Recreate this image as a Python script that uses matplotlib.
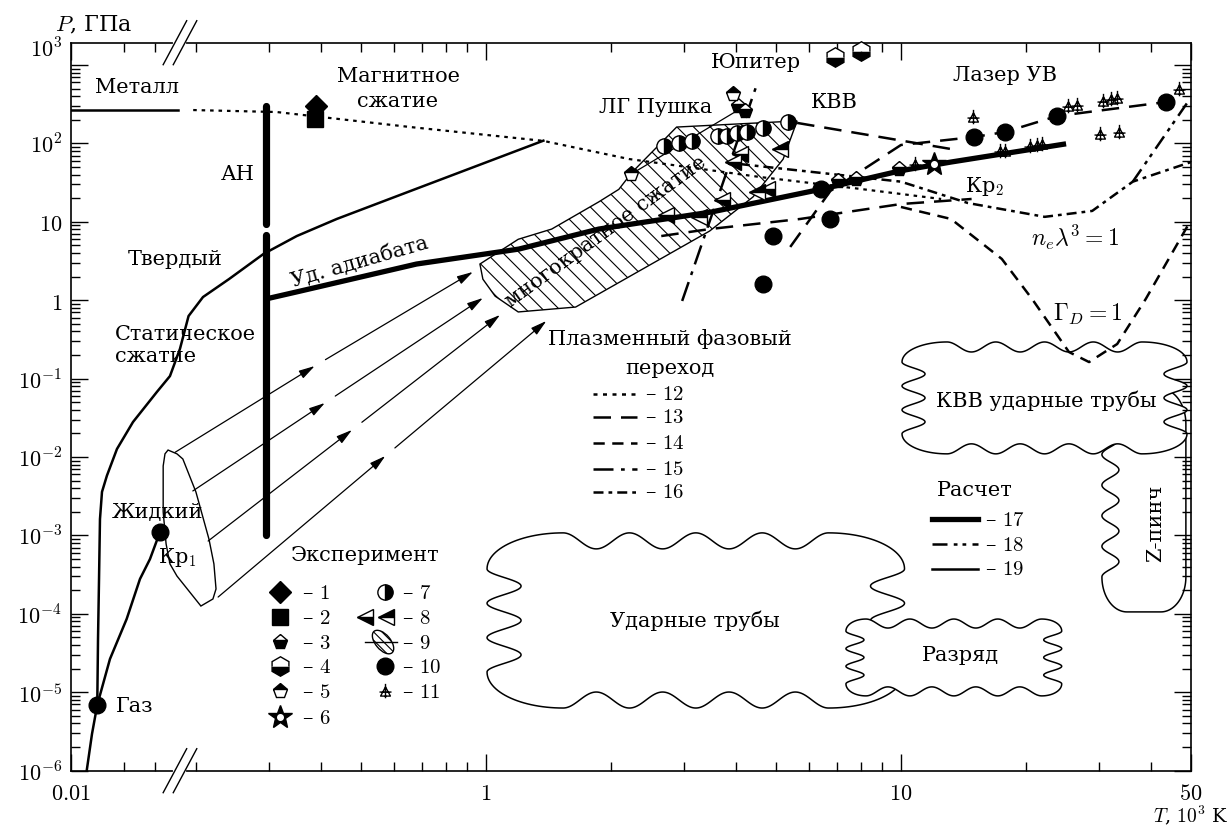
import numpy as np
import matplotlib
matplotlib.use("Agg")
import matplotlib.pyplot as plt
import matplotlib.ticker as mticker
from matplotlib.path import Path
from matplotlib.patches import Polygon, Ellipse
from matplotlib.transforms import IdentityTransform

plt.rcParams["font.family"] = ["DejaVu Serif"]
plt.rcParams["mathtext.fontset"] = "cm"
plt.rcParams["hatch.linewidth"] = 0.8

# ---------------- data: T in 10^3 K, P in GPa ----------------
# phase boundaries of molecular hydrogen (19)
sat_T = [0.01228, 0.01316, 0.0141, 0.01665, 0.02071, 0.02466, 0.0281, 0.032]
sat_P = [1e-6, 2.94e-6, 6.9e-6, 2.66e-5, 8.6e-5, 2.79e-4, 5.0e-4, 1.1e-3]
melt_T = [0.0141, 0.01424, 0.01443, 0.01461, 0.0150, 0.0160, 0.01825, 0.0225,
          0.0308, 0.0365, 0.0416, 0.192, 0.208, 0.2405, 0.291, 0.350, 0.437,
          0.658, 1.375]
melt_P = [6.9e-6, 4.8e-5, 2.8e-4, 1.62e-3, 3.6e-3, 5.8e-3, 0.0127, 0.028,
          0.068, 0.108, 0.24, 0.63, 1.10, 1.87, 3.9, 6.6, 10.9, 24.8, 108.6]
metal_T = [0.01, 0.0406]
metal_P = [267, 267]
triple_T, triple_P = 0.0141, 6.9e-6
crit1_T, crit1_P = 0.032, 1.1e-3

# diamond anvil range (AH)
anvil_T = 0.295
anvil_hi_P = [9.4, 300]
anvil_lo_P = [1e-3, 6.8]

# calculated principal Hugoniot (17)
hug_T = [0.295, 0.35, 0.68, 1.2, 1.87, 3.5, 6.4, 10, 13.2, 25]
hug_P = [1.04, 1.28, 2.9, 4.5, 8.1, 13.4, 26, 45, 58, 99]

# multiple shock compression domain
multi_T = [0.967, 0.983, 1.052, 1.196, 1.645, 3.46, 4.40, 5.20, 5.62, 2.88,
           2.25, 2.09, 1.87, 1.44, 1.196]
multi_P = [2.9, 1.86, 1.13, 0.71, 0.82, 7.65, 20.8, 63, 194, 162, 43, 26, 18,
           8.1, 6.0]

# liquid initial states
liq_T = [0.0356, 0.040, 0.186, 0.200, 0.215, 0.221, 0.2236, 0.2198, 0.2056,
         0.040, 0.0365, 0.0347, 0.0334, 0.0334, 0.0342]
liq_P = [0.0123, 0.011, 0.00946, 0.00359, 9.0e-4, 4.34e-4, 2.08e-4, 1.55e-4,
         1.26e-4, 3.04e-4, 4.34e-4, 7.8e-4, 2.0e-3, 7.7e-3, 0.011]

# compression paths
path_T0 = [0.039, 0.1966, 0.214, 0.2262]
path_P0 = [0.0115, 3.70e-3, 8.5e-4, 1.64e-4]
path_T1 = [0.3866, 0.409, 0.4755, 0.572]
path_P1 = [0.145, 0.049, 0.0222, 0.01033]
path_T2 = [0.930, 0.983, 1.081, 1.398]
path_P2 = [2.30, 1.07, 0.650, 0.545]

# plasma phase transition predictions (12-16) and criteria (18)
pt12_T = [0.197, 0.313, 0.658, 1.375, 2.21, 4.57, 8.0, 12.5]
pt12_P = [267, 252, 162, 108, 63.4, 37.4, 26.3, 19.6]
pt13a_T = [2.645, 3.46, 5.72, 10, 14.8]
pt13a_P = [6.6, 8.1, 10.9, 16.9, 19.6]
pt13b_T = [5.62, 13.2]
pt13b_P = [183, 85]
laser_T = [5.41, 6.76, 10, 15.0, 17.8, 23.8, 43.5]
laser_P = [4.79, 24.8, 95.7, 121, 140, 224, 338]
pt15_T = [2.97, 4.50]
pt15_P = [0.98, 574]
gam_T = [10, 13.2, 17.5, 20.7, 25.4, 28.4, 33.2, 38.9, 49.7]
gam_P = [15.5, 10.9, 3.37, 1.04, 0.219, 0.163, 0.277, 1.04, 10.0]
deg_T = [4.09, 10, 14.5, 22.2, 28.9, 36.2, 50]
deg_P = [54.7, 32.6, 17.4, 11.6, 13.8, 32.6, 58]
br18_T = [36.2, 49.7]
br18_P = [32.6, 370]

# experiments 1-11
e1_T, e1_P = [0.39], [300]
e2_T, e2_P = [0.387], [205]
e3_T = [4.04, 4.20, 7.07, 7.78, 9.89]
e3_P = [301, 259, 33.3, 35.3, 47.3]
e4_T, e4_P = [6.95, 8.0], [1268, 1513]
e5_T, e5_P = [3.93, 2.24], [428, 40.8]
e6_T, e6_P = [12.0], [54.7]
e7_T = [2.69, 2.92, 3.13, 3.62, 3.80, 4.02, 4.25, 4.65, 5.35]
e7_P = [93, 101, 108, 125, 125, 136, 140, 158, 188]
e8a_T = [2.72, 3.70, 4.75, 4.09, 3.93]
e8a_P = [12.2, 19.0, 26.3, 73.5, 58]
e8b_T = [3.27, 4.50, 5.11]
e8b_P = [11.5, 24.0, 85]
e10_T = [6.40, 6.76, 4.92, 4.65, 15.0, 17.8, 23.8, 43.5]
e10_P = [26.3, 10.9, 6.6, 1.61, 121, 140, 224, 338]
e11_T = [14.9, 17.3, 17.8, 20.5, 21.3, 21.9, 25.2, 26.6, 30.6, 32.0, 33.2,
         30.2, 33.6, 46.8, 10.8]
e11_P = [218, 80, 80, 93, 96, 98.6, 301, 310, 348, 370, 381, 132, 140, 495,
         54.7]
gun_T = [2.24, 4.02]
gun_P = [40.8, 260]

# experimental domains (T range, P range)
shock_tube = (1.006, 10.2, 6.3e-6, 1.08e-3)
discharge = (7.37, 24.4, 9.0e-6, 8.6e-5)
ew_tube = (10.06, 48.9, 0.011, 0.294)
zpinch = (30.5, 48.6, 1.06e-4, 0.074)

x_major = [0.01, 1, 10, 50]
x_major_lbl = [r"$0.01$", r"$1$", r"$10$", r"$50$"]
x_minor = [0.02, 0.03, 0.2, 0.3, 0.4, 0.5, 0.6, 0.7, 0.8, 0.9,
           2, 3, 4, 5, 6, 7, 8, 9, 20, 30, 40]

# ---------------- broken logarithmic temperature axis ----------------
LT_LO = -2 + 109 / 176
LT_HI = (181 - 486) / 415


def t_forward(t):
    lt = np.log10(np.clip(np.asarray(t, dtype=float), 1e-12, None))
    right = 486 + 415 * lt
    left = 71 + 176 * (lt + 2)
    gap = 180 + (lt - LT_LO) / (LT_HI - LT_LO)
    return np.where(lt >= LT_HI, right, np.where(lt <= LT_LO, left, gap))


def t_inverse(p):
    p = np.asarray(p, dtype=float)
    lt = np.where(p >= 181, (p - 486) / 415,
                  np.where(p <= 180, (p - 71) / 176 - 2,
                           LT_LO + (p - 180) * (LT_HI - LT_LO)))
    return 10 ** lt


fig = plt.figure(figsize=(12.3, 8.28), dpi=100)
ax = fig.add_axes([71 / 1230, (828 - 771.7) / 828, 1120 / 1230, 728 / 828])
ax.set_xscale("function", functions=(t_forward, t_inverse))
ax.set_yscale("log")
ax.set_xlim(0.01, 50)
ax.set_ylim(1e-6, 1.93e3)

ax.xaxis.set_major_locator(mticker.FixedLocator(x_major))
ax.xaxis.set_major_formatter(mticker.FixedFormatter(x_major_lbl))
ax.xaxis.set_minor_locator(mticker.FixedLocator(x_minor))
ax.xaxis.set_minor_formatter(mticker.NullFormatter())
ax.yaxis.set_major_locator(mticker.FixedLocator([10.0 ** k for k in range(-6, 4)]))
ax.yaxis.set_minor_locator(mticker.LogLocator(base=10, subs=np.arange(2, 10), numticks=20))
ax.yaxis.set_minor_formatter(mticker.NullFormatter())


def yfmt(v, pos):
    e = int(round(np.log10(v)))
    if e == 0:
        return r"$1$"
    if e == 1:
        return r"$10$"
    if e == 3:
        return ""
    return r"$10^{%d}$" % e


ax.yaxis.set_major_formatter(mticker.FuncFormatter(yfmt))
ax.tick_params(which="both", direction="in", top=True, right=True, width=1.0)
ax.tick_params(which="major", length=12.5, labelsize=16)
ax.tick_params(which="minor", length=6.3)
ax.tick_params(axis="x", pad=8)
ax.tick_params(axis="y", pad=6.5)
for s in ax.spines.values():
    s.set_linewidth(1.2)
ax.text(-0.008, 0.9913, r"$10^3$", transform=ax.transAxes, ha="right",
        va="center", fontsize=16)

# axis break marks
for yb in (0.0, 1.0):
    ax.add_line(plt.Line2D([0.0973 - 0.004, 0.0973 + 0.004], [yb, yb],
                           transform=ax.transAxes, color="white", lw=3,
                           clip_on=False, zorder=5))
    for dx in (-0.0045, 0.0045):
        ax.add_line(plt.Line2D([0.0973 + dx - 0.0105, 0.0973 + dx + 0.0105],
                               [yb - 0.0302, yb + 0.0302],
                               transform=ax.transAxes, color="k", lw=1.0,
                               clip_on=False, zorder=6))

# axis titles
ax.text(-0.0143, 1.0257, r"$P$, ГПа", transform=ax.transAxes, ha="left",
        va="center", fontsize=16)
ax.text(1.033, -0.0600, r"$T$, $10^3$ K", transform=ax.transAxes, ha="right",
        va="center", fontsize=14)


# ---------------- wavy experimental domains ----------------
def wavy_region(box, n_tb, n_lr, a_tb, a_l, a_r, rx, ry, z):
    t0, t1, p0, p1 = box
    (x0, y0), (x1, y1) = ax.transData.transform([(t0, p0), (t1, p1)])
    s = np.linspace(0, 1, 300)

    def arc(cx, cy, a0, a1):
        th = np.radians(np.linspace(a0, a1, 30))
        return np.column_stack([cx + rx * np.cos(th), cy + ry * np.sin(th)])

    def wave(n, a):
        return a * (1 - np.cos(2 * np.pi * n * s)) / 2

    w, h = x1 - x0 - 2 * rx, y1 - y0 - 2 * ry
    parts = [
        arc(x0 + rx, y1 - ry, 180, 90),
        np.column_stack([x0 + rx + w * s, y1 - wave(n_tb, a_tb)]),
        arc(x1 - rx, y1 - ry, 90, 0),
        np.column_stack([x1 - wave(n_lr, a_r), y1 - ry - h * s]),
        arc(x1 - rx, y0 + ry, 0, -90),
        np.column_stack([x1 - rx - w * s, y0 + wave(n_tb, a_tb)]),
        arc(x0 + rx, y0 + ry, -90, -180),
        np.column_stack([x0 + wave(n_lr, a_l), y0 + ry + h * s]),
    ]
    verts = ax.transAxes.inverted().transform(np.vstack(parts))
    ax.add_patch(Polygon(verts, closed=True, transform=ax.transAxes,
                         facecolor="white", edgecolor="k", lw=1.1, zorder=z))


wavy_region(shock_tube, 4, 3, 16, 34, 34, 76, 36, 1.0)
wavy_region(discharge, 4, 3, 9, 18, 18, 20, 12, 1.1)
wavy_region(zpinch, 0, 5, 0, 17, 0, 25, 35, 1.0)
wavy_region(ew_tube, 4, 3, 10, 23, 23, 45, 20, 1.1)

# ---------------- regions and curves ----------------
ax.add_patch(Polygon(np.column_stack([multi_T, multi_P]), closed=True,
                     facecolor="white", edgecolor="k", lw=1.0, hatch=r"\\",
                     zorder=2))
ax.add_patch(Polygon(np.column_stack([liq_T, liq_P]), closed=True,
                     facecolor="none", edgecolor="k", lw=1.0, zorder=2))

ls12 = (0, (1.6, 2.2))
ls13 = (0, (7, 4))
ls14 = (0, (4.5, 3))
ls15 = (0, (8, 3, 1.5, 3))
ls16 = (0, (4, 2, 1.5, 2))
ls18 = (0, (6, 2.5, 1.5, 2, 1.5, 2.5))

ax.plot(metal_T, metal_P, color="k", lw=1.8, zorder=3)
ax.plot(sat_T, sat_P, color="k", lw=1.8, zorder=3)
ax.plot(melt_T, melt_P, color="k", lw=1.8, zorder=3)
ax.plot(pt12_T, pt12_P, color="k", lw=1.6, ls=ls12, zorder=3)
ax.plot(pt13a_T, pt13a_P, color="k", lw=1.8, ls=ls13, zorder=3)
ax.plot(pt13b_T, pt13b_P, color="k", lw=1.8, ls=ls13, zorder=3)
ax.plot(laser_T, laser_P, color="k", lw=1.8, ls=ls13, zorder=3)
ax.plot(pt15_T, pt15_P, color="k", lw=1.8, ls=ls15, zorder=3)
ax.plot(gam_T, gam_P, color="k", lw=1.8, ls=ls14, zorder=3)
ax.plot(deg_T, deg_P, color="k", lw=1.8, ls=ls16, zorder=3)
ax.plot(br18_T, br18_P, color="k", lw=1.8, ls=ls18, zorder=3)
ax.plot(hug_T, hug_P, color="k", lw=3.8, solid_capstyle="butt", zorder=4)
ax.plot(gun_T, gun_P, color="k", lw=0.9, zorder=3)
ax.plot([anvil_T, anvil_T], anvil_hi_P, color="k", lw=5.2,
        solid_capstyle="round", zorder=4)
ax.plot([anvil_T, anvil_T], anvil_lo_P, color="k", lw=5.2,
        solid_capstyle="round", zorder=4)

arrow_kw = dict(arrowstyle="-|>,head_length=0.8,head_width=0.22",
                mutation_scale=12, color="k", lw=0.9, shrinkA=0, shrinkB=0)
for i in range(4):
    ax.annotate("", xy=(path_T1[i], path_P1[i]), xytext=(path_T0[i], path_P0[i]),
                arrowprops=arrow_kw, zorder=3)
    ax.annotate("", xy=(path_T2[i], path_P2[i]), xytext=(path_T1[i], path_P1[i]),
                arrowprops=dict(arrow_kw, shrinkA=9), zorder=3)

ax.plot([triple_T, crit1_T], [triple_P, crit1_P], "o", color="k", ms=12, zorder=5)

# ---------------- experimental points ----------------
tri_plus = Path([(-0.45, -0.42), (0.45, -0.42), (0, 0.42), (-0.45, -0.42),
                 (0, 0.7), (0, -0.62), (-0.55, -0.05), (0.55, -0.05)],
                [Path.MOVETO, Path.LINETO, Path.LINETO, Path.CLOSEPOLY,
                 Path.MOVETO, Path.LINETO, Path.MOVETO, Path.LINETO])

half = dict(color="k", mec="k", mfc="k", mfcalt="white", ls="none", mew=1.0)
sty = {
    "1": dict(marker="D", ms=11.5, color="k", ls="none"),
    "2": dict(marker="s", ms=12, color="k", ls="none"),
    "3": dict(marker="p", ms=11, fillstyle="bottom", **half),
    "4": dict(marker="h", ms=14, fillstyle="bottom", **half),
    "5": dict(marker="p", ms=11, fillstyle="top", **half),
    "6": dict(marker="*", ms=18, color="k", ls="none"),
    "7": dict(marker="o", ms=11, fillstyle="right", **half),
    "8a": dict(marker="<", ms=11, fillstyle="bottom", **half),
    "8b": dict(marker="<", ms=11, fillstyle="top", **half),
    "10": dict(marker="o", ms=12, color="k", ls="none"),
    "11": dict(marker=tri_plus, ms=11, color="k", mfc="none", mew=1.0, ls="none"),
}

ax.plot(e7_T, e7_P, zorder=6, **sty["7"])
ax.plot(e8a_T, e8a_P, zorder=6, **sty["8a"])
ax.plot(e8b_T, e8b_P, zorder=6, **sty["8b"])
ax.plot(e3_T, e3_P, zorder=6, **sty["3"])
ax.plot(e5_T, e5_P, zorder=6, **sty["5"])
ax.plot(e4_T, e4_P, zorder=6, clip_on=False, **sty["4"])
ax.plot(e10_T, e10_P, zorder=6, **sty["10"])
ax.plot(e11_T, e11_P, zorder=6, **sty["11"])
ax.plot(e2_T, e2_P, zorder=6, **sty["2"])
ax.plot(e1_T, e1_P, zorder=6, **sty["1"])
ax.plot(e6_T, e6_P, zorder=6, **sty["6"])
ax.plot(e6_T, e6_P, "o", color="white", ms=4, zorder=7)

# ---------------- labels ----------------
fs = 15


def label(x, y, s, **kw):
    kw.setdefault("ha", "center")
    kw.setdefault("va", "center")
    kw.setdefault("fontsize", fs)
    ax.text(x, y, s, transform=ax.transAxes, **kw)


label(0.0589, 0.9405, "Металл")
label(0.292, 0.9377, "Магнитное\nсжатие", linespacing=1.35)
label(0.1491, 0.8209, "АН")
label(0.0929, 0.704, "Твердый")
label(0.0393, 0.5848, "Статическое\nсжатие", ha="left", linespacing=1.2)
label(0.0768, 0.3554, "Жидкий")
label(0.0946, 0.2936, r"Кр$_1$")
label(0.0571, 0.0889, "Газ")
label(0.6116, 0.9735, "Юпитер")
label(0.5223, 0.9130, "ЛГ Пушка")
label(0.6813, 0.9199, "КВВ")
label(0.8339, 0.957, "Лазер УВ")
label(0.8161, 0.8032, r"Кр$_2$")
label(0.8964, 0.7345, r"$n_e\lambda^3 = 1$", fontsize=17)
label(0.9080, 0.6287, r"$\Gamma_D = 1$", fontsize=17)
label(0.8705, 0.5092, "КВВ ударные трубы")
label(0.9688, 0.3416, "Z-пинч", rotation=90)
label(0.5571, 0.2070, "Ударные трубы")
label(0.7938, 0.1603, "Разряд")
label(0.258, 0.7001, "Уд. адиабата", rotation=16)
label(0.4777, 0.7413, "многократное сжатие", rotation=36)

# plasma phase transition legend
label(0.5348, 0.594, "Плазменный фазовый")
label(0.5348, 0.5545, "переход")
for y, ls_, n in [(0.5175, ls12, "12"), (0.4859, ls13, "13"), (0.4502, ls14, "14"),
                  (0.4145, ls15, "15"), (0.3829, ls16, "16")]:
    ax.plot([0.466, 0.5054], [y, y], transform=ax.transAxes, color="k", lw=1.8,
            ls=ls_, zorder=6)
    label(0.5125, y, r"– $\mathit{%s}$" % n, ha="left")

# calculation legend
label(0.8071, 0.3856, "Расчет")
for y, lw_, ls_, n in [(0.3457, 3.8, "-", "17"), (0.3114, 1.8, ls18, "18"),
                       (0.2771, 1.8, "-", "19")]:
    ax.plot([0.7688, 0.8098], [y, y], transform=ax.transAxes, color="k", lw=lw_,
            ls=ls_, zorder=6)
    label(0.8161, y, r"– $\mathit{%s}$" % n, ha="left")

# experiment legend
label(0.2625, 0.2963, "Эксперимент")
rows = [0.2454, 0.2111, 0.1767, 0.1438, 0.1094, 0.0737]
for key, y, n in [("1", rows[0], "1"), ("2", rows[1], "2"), ("3", rows[2], "3"),
                  ("4", rows[3], "4"), ("5", rows[4], "5"), ("6", rows[5], "6")]:
    ax.plot([0.1866], [y], transform=ax.transAxes, zorder=6, **sty[key])
    label(0.2063, y, r"– $\mathit{%s}$" % n, ha="left")
ax.plot([0.1866], [rows[5]], "o", color="white", ms=4, transform=ax.transAxes, zorder=7)
ax.plot([0.2804], [rows[0]], transform=ax.transAxes, zorder=6, **sty["7"])
ax.plot([0.2625], [rows[1]], transform=ax.transAxes, zorder=6, **sty["8a"])
ax.plot([0.2813], [rows[1]], transform=ax.transAxes, zorder=6, **sty["8b"])
ax.plot([0.2804], [rows[3]], transform=ax.transAxes, zorder=6, **sty["10"])
ax.plot([0.2804], [rows[4]], transform=ax.transAxes, zorder=6, **sty["11"])
cx, cy = ax.transAxes.transform((0.2786, rows[2]))
ax.add_patch(Ellipse((cx, cy), 28, 15, angle=-50, transform=IdentityTransform(),
                     facecolor="white", edgecolor="k", lw=1.0, hatch=r"\\\\",
                     zorder=6))
ax.plot([0.2625, 0.291], [rows[2], rows[2]], transform=ax.transAxes, color="k",
        lw=1.0, zorder=7)
for y, n in zip(rows[:5], ["7", "8", "9", "10", "11"]):
    label(0.2955, y, r"– $\mathit{%s}$" % n, ha="left")

fig.savefig("out.png", dpi=100)
